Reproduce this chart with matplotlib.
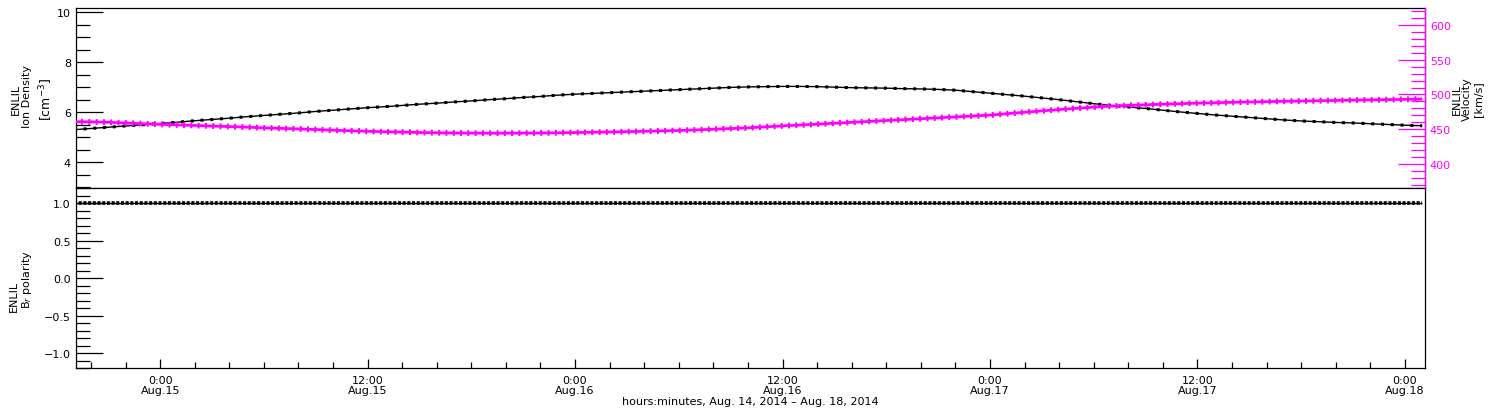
import matplotlib
matplotlib.use('Agg')
import matplotlib.pyplot as plt
import matplotlib.dates as mdates
from matplotlib.ticker import MultipleLocator, FixedLocator, FuncFormatter
import pandas as pd

plt.rcParams['font.family'] = ['DejaVu Sans']

# ---------------- data (hourly, starting Aug 14 2014 19:00) ----------------
start_time = '2014-08-14 19:00'
times = pd.date_range(start_time, periods=79, freq='h')

density = [
    5.30, 5.35, 5.40, 5.45, 5.50,
    5.55, 5.60, 5.66, 5.71, 5.76, 5.82, 5.87, 5.92, 5.97, 6.03, 6.08, 6.13,
    6.18, 6.22, 6.27, 6.32, 6.36, 6.41, 6.45, 6.50, 6.54, 6.59, 6.63, 6.68,
    6.72, 6.75, 6.78, 6.81, 6.84, 6.87, 6.90, 6.93, 6.96, 6.99, 7.01, 7.02,
    7.03, 7.03, 7.02, 7.00, 6.98, 6.97, 6.96, 6.94, 6.93, 6.91, 6.88, 6.82,
    6.76, 6.70, 6.64, 6.57, 6.50, 6.42, 6.34, 6.27, 6.21, 6.15, 6.08, 6.01,
    5.95, 5.89, 5.84, 5.79, 5.74, 5.69, 5.65, 5.62, 5.59, 5.57, 5.54, 5.51,
    5.48, 5.46,
]

velocity = [
    461.0, 460.5, 460.0, 459.0, 458.0,
    457.0, 456.2, 455.4, 454.6, 453.8, 453.0, 452.0, 451.2, 450.4, 449.6, 448.6, 447.8,
    447.0, 446.4, 445.8, 445.3, 444.9, 444.6, 444.4, 444.3, 444.3, 444.4, 444.6, 444.9,
    445.2, 445.6, 446.0, 446.5, 447.0, 447.6, 448.2, 449.0, 450.0, 451.0, 452.0, 453.4,
    454.8, 456.0, 457.3, 458.6, 459.9, 461.2, 462.5, 463.8, 465.1, 466.4, 467.7, 469.0,
    470.3, 472.4, 474.4, 476.4, 478.3, 480.1, 481.8, 483.2, 484.3, 485.2, 486.0, 486.8,
    487.5, 488.1, 488.7, 489.2, 489.7, 490.2, 490.6, 491.0, 491.4, 491.8, 492.2, 492.6,
    493.0, 493.4,
]

br_polarity = [
    1.0, 1.0, 1.0, 1.0, 1.0, 1.0, 1.0, 1.0, 1.0, 1.0, 1.0, 1.0, 1.0, 1.0, 1.0, 1.0,
    1.0, 1.0, 1.0, 1.0, 1.0, 1.0, 1.0, 1.0, 1.0, 1.0, 1.0, 1.0, 1.0, 1.0, 1.0, 1.0,
    1.0, 1.0, 1.0, 1.0, 1.0, 1.0, 1.0, 1.0, 1.0, 1.0, 1.0, 1.0, 1.0, 1.0, 1.0, 1.0,
    1.0, 1.0, 1.0, 1.0, 1.0, 1.0, 1.0, 1.0, 1.0, 1.0, 1.0, 1.0, 1.0, 1.0, 1.0, 1.0,
    1.0, 1.0, 1.0, 1.0, 1.0, 1.0, 1.0, 1.0, 1.0, 1.0, 1.0, 1.0, 1.0, 1.0, 1.0,
]

x_start = pd.Timestamp('2014-08-14 19:07')
x_end = pd.Timestamp('2014-08-18 01:10')

density_ticks = [4, 6, 8, 10]
velocity_ticks = [400, 450, 500, 550, 600]
br_ticks = [-1.0, -0.5, 0.0, 0.5, 1.0]

x_label = 'hours:minutes, Aug. 14, 2014 \u2013 Aug. 18, 2014'

MAG = '#ff00ff'
FS = 8

# ---------------- figure ----------------
fig = plt.figure(figsize=(15, 4.1), dpi=100)
left, width = 0.0505, 0.8995
ax1 = fig.add_axes([left, 0.5383, width, 0.4390])
ax2 = fig.add_axes([left, 0.1000, width, 0.4383])

for ax in (ax1, ax2):
    for sp in ax.spines.values():
        sp.set_linewidth(0.9)
    ax.set_xlim(x_start, x_end)

# top panel: density (thin line + sparse small symbols look)
ax1.plot(times, density, color='black', lw=1.0, solid_capstyle='butt')
ax1.plot(times, density, color='black', lw=2.2, linestyle=(0, (1.0, 2.2)),
         dash_capstyle='butt')
ax1.set_ylim(2.96, 10.15)
ax1.yaxis.set_major_locator(FixedLocator(density_ticks))
ax1.yaxis.set_minor_locator(MultipleLocator(0.5))
ax1.yaxis.set_major_formatter(FuncFormatter(lambda v, p: f'{v:.0f}'))
ax1.tick_params(axis='y', which='major', direction='in', length=19.5, width=0.9,
                labelsize=FS, pad=3.5)
ax1.tick_params(axis='y', which='minor', direction='in', length=10, width=0.9)
ax1.tick_params(axis='x', which='both', bottom=False, labelbottom=False)

# top panel: velocity (right axis) drawn as a dense band of '+' symbols
ax1r = ax1.twinx()
ax1r.set_xlim(x_start, x_end)
ax1r.plot(times, velocity, color=MAG, lw=2.0, solid_capstyle='butt')
ax1r.plot(times, velocity, color=MAG, lw=4.2, linestyle=(0, (0.35, 0.9)),
          dash_capstyle='butt')
ax1r.set_ylim(365, 624)
ax1r.yaxis.set_major_locator(FixedLocator(velocity_ticks))
ax1r.yaxis.set_minor_locator(MultipleLocator(10))
ax1r.tick_params(axis='y', which='major', direction='in', length=19.5, width=0.9,
                 labelsize=FS, pad=3.5, colors=MAG)
ax1r.tick_params(axis='y', which='minor', direction='in', length=10, width=0.9,
                 colors=MAG)
ax1r.spines['right'].set_color(MAG)
ax1r.spines['right'].set_linewidth(0.9)
for s in ('left', 'top', 'bottom'):
    ax1r.spines[s].set_visible(False)
ax1r.tick_params(axis='x', which='both', bottom=False, labelbottom=False)

# bottom panel: Br polarity (dense square symbols)
ax2.plot(times, br_polarity, color='black', lw=1.0, solid_capstyle='butt')
ax2.plot(times, br_polarity, color='black', lw=2.6, linestyle=(0, (0.85, 0.45)),
         dash_capstyle='butt')
ax2.set_ylim(-1.2, 1.2)
ax2.yaxis.set_major_locator(FixedLocator(br_ticks))
ax2.yaxis.set_minor_locator(MultipleLocator(0.1))
ax2.yaxis.set_major_formatter(FuncFormatter(lambda v, p: f'{v:.1f}'.replace('-', '\u2212')))
ax2.tick_params(axis='y', which='major', direction='in', length=19.5, width=0.9,
                labelsize=FS, pad=3.5)
ax2.tick_params(axis='y', which='minor', direction='in', length=10, width=0.9)

ax2.xaxis.set_major_locator(mdates.HourLocator(byhour=[0, 12]))
ax2.xaxis.set_minor_locator(mdates.HourLocator(byhour=range(0, 24, 2)))


def fmt_time(v, pos):
    d = mdates.num2date(v)
    return f'{d.hour}:{d.minute:02d}\nAug.{d.day}'


ax2.xaxis.set_major_formatter(FuncFormatter(fmt_time))
ax2.tick_params(axis='x', which='major', direction='in', length=6.5, width=0.9,
                labelsize=FS, pad=5)
ax2.tick_params(axis='x', which='minor', direction='in', length=4, width=0.9)
for lab in ax2.get_xticklabels():
    lab.set_linespacing(0.95)

fig.text(0.5, 1 - 402 / 410, x_label, ha='center', va='center', fontsize=FS)


# y-axis titles
def ftxt(xpx, ypx, s, size=FS):
    fig.text(xpx / 1500, 1 - ypx / 410, s, rotation=90, ha='center', va='center',
             fontsize=size)


ftxt(16, 99, 'ENLIL')
ftxt(27, 96, 'Ion Density')
ftxt(46, 99, '[cm$^{-3}$]', size=9)

ftxt(1457, 99, 'ENLIL')
ftxt(1467, 99, 'Velocity')
ftxt(1478, 99, '[km/s]')

ftxt(14, 296, 'ENLIL')
ftxt(27, 280, 'B$_r$ polarity')

fig.savefig('out.png', dpi=100)
